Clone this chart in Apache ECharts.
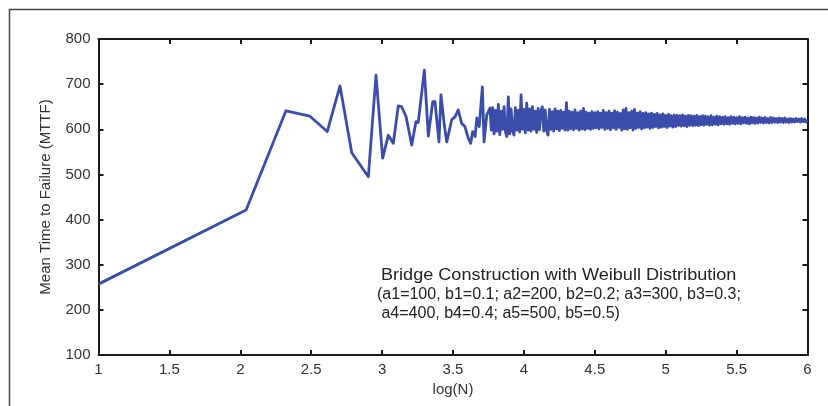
<!DOCTYPE html>
<html>
<head>
<meta charset="utf-8">
<script src="https://cdn.jsdelivr.net/npm/echarts@6/dist/echarts.min.js"></script>
<style>
html,body{margin:0;padding:0;background:#fff;}
#chart{width:828px;height:406px;}
</style>
</head>
<body>
<div id="chart"></div>
<script>
// ---- data (x = log(N), y = MTTF) ----
var xTickLabels = ['1','1.5','2','2.5','3','3.5','4','4.5','5','5.5','6'];
var yTickLabels = ['100','200','300','400','500','600','700','800'];

var logNSparse = [1.000,2.041,2.322,2.491,2.613,2.703,2.786,2.903,2.957,3.004,3.044,3.079,3.114,3.138,3.169,3.209,3.239,3.255,3.298,3.326,3.357,3.373,3.401,3.415,3.437,3.456,3.491,3.515,3.537,3.561,3.584,3.608,3.625,3.639,3.656,3.668,3.685,3.707,3.719,3.738,3.761];
var mttfSparse = [257,421,641,629,595,696,548,495,720,536,587,569,652,650,628,565,617,615,731,585,661,661,572,676,614,572,621,628,643,613,606,580,569,595,584,625,606,694,572,632,647];

var logNDense1 = [3.77,3.78,3.79,3.80,3.81,3.82,3.83,3.84,3.85,3.86,3.87,3.88,3.89,3.90,3.91,3.92,3.93,3.94,3.95,3.96,3.97,3.98,3.99,4.00,4.01,4.02,4.03,4.04,4.05,4.06,4.07,4.08,4.09,4.10,4.11,4.12,4.13,4.14,4.15,4.16,4.17,4.18,4.19,4.20,4.21,4.22,4.23,4.24,4.25,4.26,4.27,4.28,4.29,4.30,4.31,4.32,4.33,4.34,4.35,4.36,4.37,4.38,4.39,4.40,4.41,4.42,4.43,4.44,4.45,4.46,4.47,4.48,4.49,4.50];
var mttfDense1 = [598,648,590,642,596,655,588,640,600,650,594,584,672,590,645,596,587,648,598,642,594,676,600,644,592,658,598,645,596,650,600,640,593,646,599,641,650,596,643,598,587,644,600,639,596,645,601,640,597,642,602,638,598,659,598,640,601,638,599,643,602,637,598,640,601,646,599,638,602,636,600,639,602,637];

var logNDense2 = [
  4.51,4.52,4.53,4.54,4.55,4.56,4.57,4.58,4.59,4.60,
  4.61,4.62,4.63,4.64,4.65,4.66,4.67,4.68,4.69,4.70,
  4.71,4.72,4.73,4.74,4.75,4.76,4.77,4.78,4.79,4.80,
  4.81,4.82,4.83,4.84,4.85,4.86,4.87,4.88,4.89,4.90,
  4.91,4.92,4.93,4.94,4.95,4.96,4.97,4.98,4.99,5.00,
  5.01,5.02,5.03,5.04,5.05,5.06,5.07,5.08,5.09,5.10,
  5.11,5.12,5.13,5.14,5.15,5.16,5.17,5.18,5.19,5.20,
  5.21,5.22,5.23,5.24,5.25,5.26,5.27,5.28,5.29,5.30,
  5.31,5.32,5.33,5.34,5.35,5.36,5.37,5.38,5.39,5.40,
  5.41,5.42,5.43,5.44,5.45,5.46,5.47,5.48,5.49,5.50,
  5.51,5.52,5.53,5.54,5.55,5.56,5.57,5.58,5.59,5.60,
  5.61,5.62,5.63,5.64,5.65,5.66,5.67,5.68,5.69,5.70,
  5.71,5.72,5.73,5.74,5.75,5.76,5.77,5.78,5.79,5.80,
  5.81,5.82,5.83,5.84,5.85,5.86,5.87,5.88,5.89,5.90,
  5.91,5.92,5.93,5.94,5.95,5.96,5.97,5.98,5.99,6.00];
var mttfDense2 = [
  603,639,601,636,604,642,600,637,602,640,
  599,636,603,641,600,638,604,635,598,643,
  601,646,600,637,603,640,598,644,602,636,
  604,639,601,635,603,637,605,634,602,636,
  604,633,606,635,603,632,605,634,606,631,
  604,633,607,630,605,632,606,631,608,630,
  607,632,608,629,606,631,609,630,608,629,
  609,631,608,628,610,630,609,629,611,628,
  609,630,610,627,611,629,610,628,612,627,
  611,628,612,626,611,628,613,627,612,626,
  613,628,612,626,614,627,613,625,612,627,
  614,626,613,625,614,627,615,625,614,626,
  615,624,614,626,615,625,616,624,615,625,
  616,624,615,625,616,623,615,624,616,623,
  616,624,617,623,616,624,617,623,616,620];

var annotationLines = [
  'Bridge Construction with Weibull Distribution',
  '(a1=100, b1=0.1; a2=200, b2=0.2; a3=300, b3=0.3;',
  ' a4=400, b4=0.4; a5=500, b5=0.5)'
];

// ---- build series data ----
function pairs(xs, ys){ var out=[]; for(var i=0;i<xs.length;i++){ out.push([xs[i], ys[i]]); } return out; }
var lineData = pairs(logNSparse, mttfSparse).concat(pairs(logNDense1, mttfDense1)).concat(pairs(logNDense2, mttfDense2));

var FONT = 'Liberation Sans, Arial, Helvetica, sans-serif';
var AXC = '#1a1a1a';
var TXT = '#333333';

var chart = echarts.init(document.getElementById('chart'), null, {renderer:'canvas'});
var baseX = {
  type:'value', min:1, max:6, interval:0.5,
  splitLine:{show:false},
  axisLine:{show:true, onZero:false, lineStyle:{color:AXC, width:2}},
  axisTick:{show:true, inside:true, length:5, lineStyle:{color:AXC, width:2}}
};
var baseY = {
  type:'value', min:100, max:800, interval:100,
  splitLine:{show:false},
  axisLine:{show:true, onZero:false, lineStyle:{color:AXC, width:2}},
  axisTick:{show:true, inside:true, length:5, lineStyle:{color:AXC, width:2}}
};

var option = {
  animation:false,
  backgroundColor:'#ffffff',
  grid:{left:98.5, right:20.5, top:39, bottom:51, containLabel:false},
  xAxis:[
    Object.assign({}, baseX, {
      position:'bottom',
      axisLabel:{show:true, margin:7, color:TXT, fontSize:15, fontFamily:FONT,
        formatter:function(v){ var i=Math.round((v-1)/0.5); return xTickLabels[i]; }},
      name:'log(N)', nameLocation:'middle', nameGap:22,
      nameTextStyle:{color:TXT, fontSize:15, fontFamily:FONT}
    }),
    Object.assign({}, baseX, {position:'top', axisLabel:{show:false}})
  ],
  yAxis:[
    Object.assign({}, baseY, {
      position:'left',
      axisLabel:{show:true, margin:8, color:TXT, fontSize:15, fontFamily:FONT,
        formatter:function(v){ var i=Math.round((v-100)/100); return yTickLabels[i]; }},
      name:'Mean Time to Failure (MTTF)', nameLocation:'middle', nameGap:45, nameRotate:90,
      nameTextStyle:{color:TXT, fontSize:15, fontFamily:FONT}
    }),
    Object.assign({}, baseY, {position:'right', axisLabel:{show:false}})
  ],
  series:[{
    type:'line', xAxisIndex:0, yAxisIndex:0,
    data:lineData, showSymbol:false, symbol:'none',
    sampling:null, smooth:false,
    lineStyle:{color:'#3a4dab', width:2.8, join:'round'},
    z:3
  }],
  graphic:[
    {type:'rect', left:7, top:7, shape:{x:0,y:0,width:900,height:500},
     style:{fill:'none', stroke:'#444', lineWidth:1.5}, silent:true, z:0},
    {type:'text', x:381, y:268, scaleX:1.13, style:{text:annotationLines[0], fill:'#222', font:'16px ' + FONT}, z:10},
    {type:'text', x:377, y:287, style:{text:annotationLines[1], fill:'#222', font:'16px ' + FONT}, z:10},
    {type:'text', x:377, y:306, style:{text:annotationLines[2], fill:'#222', font:'16px ' + FONT}, z:10}
  ]
};
chart.setOption(option);
</script>
</body>
</html>
